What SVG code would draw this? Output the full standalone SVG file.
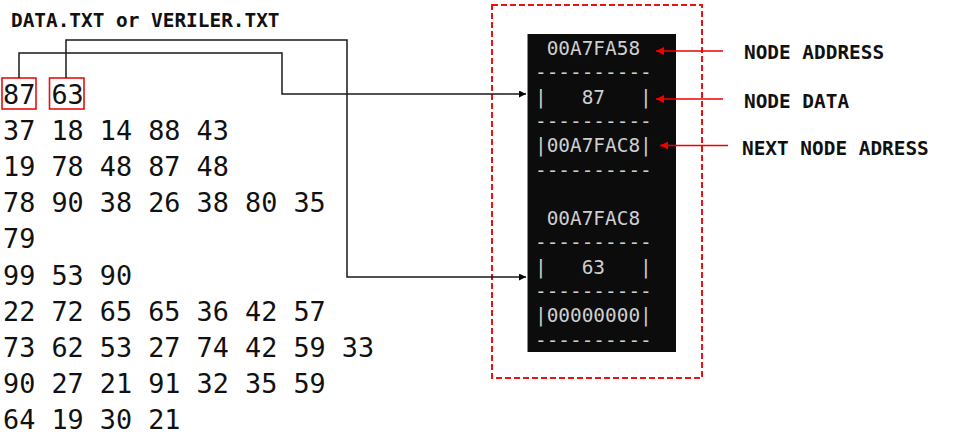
<svg xmlns="http://www.w3.org/2000/svg" width="957" height="434" viewBox="0 0 957 434">
<style>
.title{font-family:"DejaVu Sans Mono","Liberation Mono",monospace;font-weight:bold;font-size:19.4px;fill:#111}
.num{font-family:"DejaVu Sans Mono","Liberation Mono",monospace;font-size:26.8px;fill:#111}
.con{font-family:"DejaVu Sans Mono","Liberation Mono",monospace;font-size:19.4px;fill:#cfcfcf;white-space:pre}
.lbl{font-family:"DejaVu Sans Mono","Liberation Mono",monospace;font-weight:bold;font-size:19.4px;fill:#111}
.wire{fill:none;stroke:#1a1a1a;stroke-width:1.5}
.rwire{fill:none;stroke:#ee0000;stroke-width:1.6}
.hl{fill:none;stroke:#e81010;stroke-width:1.6}
</style>
<defs>
<marker id="ab" viewBox="0 0 10 10" refX="10" refY="5" markerWidth="7" markerHeight="7" markerUnits="userSpaceOnUse" orient="auto"><path d="M0,0 L10,5 L0,10 z" fill="#000"/></marker>
<marker id="ar" viewBox="0 0 10 10" refX="10" refY="5" markerWidth="9" markerHeight="8" markerUnits="userSpaceOnUse" orient="auto"><path d="M0,0 L10,5 L0,10 z" fill="#ee0000"/></marker>
</defs>
<rect width="957" height="434" fill="#fff"/>

<g id="title"><text class="title" x="11" y="26.5">DATA.TXT or VERILER.TXT</text></g>

<g id="datafile">
<rect class="hl" x="2" y="78" width="34" height="31"/>
<rect class="hl" x="49.5" y="78" width="34.5" height="31"/>
<text class="num" x="3" y="104">87 63</text>
<text class="num" x="3" y="140">37 18 14 88 43</text>
<text class="num" x="3" y="176">19 78 48 87 48</text>
<text class="num" x="3" y="212">78 90 38 26 38 80 35</text>
<text class="num" x="3" y="248">79</text>
<text class="num" x="3" y="285">99 53 90</text>
<text class="num" x="3" y="321">22 72 65 65 36 42 57</text>
<text class="num" x="3" y="357">73 62 53 27 74 42 59 33</text>
<text class="num" x="3" y="393">90 27 21 91 32 35 59</text>
<text class="num" x="3" y="429">64 19 30 21</text>
</g>

<g id="memory">
<rect x="492" y="5" width="210" height="373" fill="none" stroke="#ee1111" stroke-width="2" stroke-dasharray="6,3"/>
<rect x="527" y="34" width="149" height="318" fill="#0c0c0c"/>
<line x1="527.5" y1="34" x2="527.5" y2="352" stroke="#8a8a8a" stroke-width="1"/>
<text class="con" x="535" y="55" xml:space="preserve"> 00A7FA58</text>
<text class="con" x="535" y="79.3" xml:space="preserve">----------</text>
<text class="con" x="535" y="103.6" xml:space="preserve">|   87   |</text>
<text class="con" x="535" y="127.9" xml:space="preserve">----------</text>
<text class="con" x="535" y="152.2" xml:space="preserve">|00A7FAC8|</text>
<text class="con" x="535" y="176.5" xml:space="preserve">----------</text>
<text class="con" x="535" y="225.1" xml:space="preserve"> 00A7FAC8</text>
<text class="con" x="535" y="249.4" xml:space="preserve">----------</text>
<text class="con" x="535" y="273.7" xml:space="preserve">|   63   |</text>
<text class="con" x="535" y="298" xml:space="preserve">----------</text>
<text class="con" x="535" y="322.3" xml:space="preserve">|00000000|</text>
<text class="con" x="535" y="346.6" xml:space="preserve">----------</text>
</g>

<g id="labels">
<text class="lbl" x="744" y="59">NODE ADDRESS</text>
<text class="lbl" x="744" y="108">NODE DATA</text>
<text class="lbl" x="742" y="155">NEXT NODE ADRESS</text>
</g>

<g id="connectors">
<path class="wire" d="M19,78 V53 H282 V94 H526" marker-end="url(#ab)"/>
<path class="wire" d="M66,78 V40 H347 V277 H526" marker-end="url(#ab)"/>
<path class="rwire" d="M723,51 H656" marker-end="url(#ar)"/>
<path class="rwire" d="M723,99 H656" marker-end="url(#ar)"/>
<path class="rwire" d="M728,145.5 H660" marker-end="url(#ar)"/>
</g>
</svg>
